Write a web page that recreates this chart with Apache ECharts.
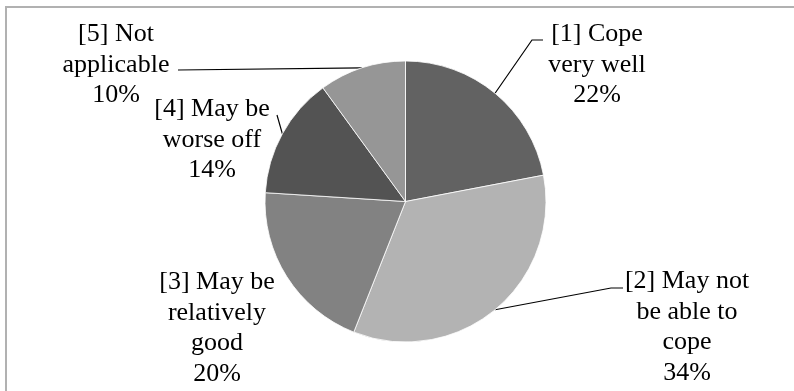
<!DOCTYPE html>
<html>
<head>
<meta charset="utf-8">
<script src="https://cdn.jsdelivr.net/npm/echarts@6/dist/echarts.min.js"></script>
<style>
  html, body { margin: 0; padding: 0; background: #fff; }
  #chart { width: 794px; height: 391px; }
</style>
</head>
<body>
<div id="chart"></div>
<script>
// Survey answers: how respondents expect to cope
const categories = [
  '[1] Cope\nvery well',
  '[2] May not\nbe able to\ncope',
  '[3] May be\nrelatively\ngood',
  '[4] May be\nworse off',
  '[5] Not\napplicable'
];
const shares = [22, 34, 20, 14, 10];
const sliceColors = ['#626262', '#b3b3b3', '#828282', '#535353', '#969696'];

// Where each label block sits (centre of the text block) and where its
// leader line meets the text, relative to that centre.
const labelSpots = [
  { x: 597, y: 65,  end: [-54, -25], elbow: -11 },
  { x: 687, y: 327, end: [-64, -39], elbow: -12 },
  { x: 217, y: 328, end: null },
  { x: 212, y: 140, end: [65, -25], elbow: 0 },
  { x: 116, y: 65,  end: [62, 5], elbow: 0 }
];

const chart = echarts.init(document.getElementById('chart'), null, { renderer: 'canvas' });

const pieData = categories.map((name, i) => ({
  name: name,
  value: shares[i],
  itemStyle: { color: sliceColors[i] },
  labelLine: { show: labelSpots[i].end !== null }
}));

chart.setOption({
  animation: false,
  backgroundColor: '#ffffff',
  graphic: [{
    type: 'rect',
    shape: { x: 6, y: 7, width: 1000, height: 1000 },
    style: { fill: 'none', stroke: '#b1b1b1', lineWidth: 2 },
    silent: true
  }],
  series: [{
    type: 'pie',
    center: [405.5, 201.5],
    radius: 140.5,
    startAngle: 90,
    clockwise: true,
    avoidLabelOverlap: false,
    data: pieData,
    itemStyle: { borderColor: '#ffffff', borderWidth: 0.8 },
    label: {
      show: true,
      position: 'outside',
      formatter: '{b}\n{c}%',
      fontFamily: '"Liberation Serif", "Times New Roman", serif',
      fontSize: 26,
      lineHeight: 30.5,
      color: '#000000',
      align: 'center'
    },
    labelLine: {
      show: true,
      length: 20,
      length2: 10,
      smooth: false,
      lineStyle: { color: '#000000', width: 1.2 }
    },
    labelLayout: function (params) {
      const spot = labelSpots[params.dataIndex];
      const out = { x: spot.x, y: spot.y, align: 'center', verticalAlign: 'middle' };
      if (spot.end && params.labelLinePoints) {
        const anchor = params.labelLinePoints[0];
        const end = [spot.x + spot.end[0], spot.y + spot.end[1]];
        const elbow = [end[0] + spot.elbow, end[1]];
        out.labelLinePoints = [anchor, elbow, end];
      }
      return out;
    }
  }]
});
</script>
</body>
</html>
